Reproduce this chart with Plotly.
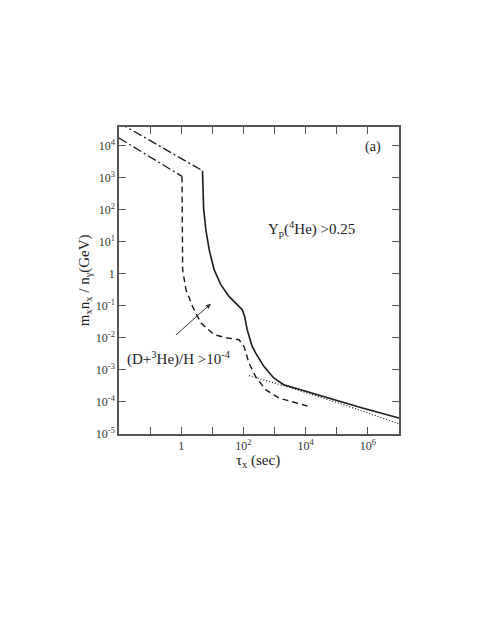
import plotly.graph_objects as go

# ---- data ----
tau_dd_upper = [0.01, 4.83]
y_dd_upper = [5.1e4, 1625]

tau_dd_lower = [0.01, 1.06]
y_dd_lower = [1.7e4, 1.08e3]

tau_solid = [4.83, 4.98, 5.27, 6.2, 7.9, 11.4, 18.7, 34.4, 63.4, 91.6, 109, 132, 191, 245,
             452, 942, 1970, 7570, 5.4e4, 6.25e5, 1e7]
y_solid = [1625, 335, 99, 23.5, 5.6, 1.33, 0.453, 0.196, 0.108, 0.0753, 0.0466, 0.0179,
           0.0054, 0.00337, 0.00129, 5.58e-4, 3.45e-4, 2.33e-4, 1.33e-4, 6.62e-5, 3.16e-5]

tau_dashed = [1.06, 1.11, 1.42, 2.31, 4.3, 11.4, 30.3, 71.8, 104, 150, 245, 512, 1360,
              4660, 1.24e4]
y_dashed = [1.08e3, 1.33, 0.316, 0.0955, 0.029, 0.0125, 0.00986, 0.00873, 0.0054, 0.00164,
            6.26e-4, 2.41e-4, 1.33e-4, 9.3e-5, 7.27e-5]

tau_dotted = [150, 1970, 5.4e4, 6.25e5, 1e7]
y_dotted = [6.59e-4, 3.21e-4, 1.17e-4, 5.33e-5, 2.06e-5]

x_tick_exp = list(range(-2, 8))
x_tick_text = ["", "", "1", "", "10<sup>2</sup>", "", "10<sup>4</sup>", "", "10<sup>6</sup>", ""]
y_tick_exp = list(range(-5, 5))
y_tick_text = ["10<sup>-5</sup>", "10<sup>-4</sup>", "10<sup>-3</sup>", "10<sup>-2</sup>",
               "10<sup>-1</sup>", "1", "10<sup>1</sup>", "10<sup>2</sup>", "10<sup>3</sup>",
               "10<sup>4</sup>"]

FONT = "Liberation Serif, Times New Roman, serif"
LC = "#1a1a1a"

fig = go.Figure()
fig.add_trace(go.Scatter(x=tau_dd_upper, y=y_dd_upper, mode="lines",
                         line=dict(color=LC, width=1.3, dash="9px,3px,2px,3px")))
fig.add_trace(go.Scatter(x=tau_dd_lower, y=y_dd_lower, mode="lines",
                         line=dict(color=LC, width=1.3, dash="9px,3px,2px,3px")))
fig.add_trace(go.Scatter(x=tau_solid, y=y_solid, mode="lines",
                         line=dict(color=LC, width=1.6)))
fig.add_trace(go.Scatter(x=tau_dashed, y=y_dashed, mode="lines",
                         line=dict(color=LC, width=1.4, dash="6px,4px")))
fig.add_trace(go.Scatter(x=tau_dotted, y=y_dotted, mode="lines",
                         line=dict(color=LC, width=1.2, dash="1px,2px")))

axis_common = dict(
    showgrid=False, zeroline=False, showline=True, linecolor="#555555", linewidth=1.5,
    mirror="allticks", ticks="inside", ticklen=7, tickwidth=1, tickcolor="#555555",
    tickfont=dict(family=FONT, size=12, color="#333333"),
)

# page has an 8px body margin, so the figure is sized/offset to compensate
fig.update_layout(
    width=483, height=627,
    margin=dict(l=111, r=92, t=119, b=201),
    paper_bgcolor="white", plot_bgcolor="white",
    showlegend=False,
    font=dict(family=FONT, color="#222222"),
    xaxis=dict(type="log", range=[-2, 7],
               tickmode="array", tickvals=[10 ** e for e in x_tick_exp], ticktext=x_tick_text,
               **axis_common),
    yaxis=dict(type="log", range=[-5, 4.574],
               tickmode="array", tickvals=[10 ** e for e in y_tick_exp], ticktext=y_tick_text,
               **axis_common),
)

PW, PH = 280.0, 307.0
L, B = 119.3, 434.3


def px(xp):
    return (xp - L) / PW


def py(yp):
    return (B - yp) / PH


fig.add_annotation(text="m<sub>x</sub>n<sub>x</sub> / n<sub>γ</sub>(GeV)", xref="paper", yref="paper",
                   x=px(85), y=0.5, textangle=-90, showarrow=False,
                   font=dict(family=FONT, size=15, color="#222222"), xanchor="center", yanchor="middle")
fig.add_annotation(text="τ<sub>x</sub> (sec)", xref="paper", yref="paper",
                   x=px(258), y=py(461), showarrow=False,
                   font=dict(family=FONT, size=15, color="#222222"), xanchor="center", yanchor="middle")
fig.add_annotation(text="(a)", xref="paper", yref="paper",
                   x=px(373), y=py(147), showarrow=False,
                   font=dict(family=FONT, size=14, color="#222222"), xanchor="center", yanchor="middle")
fig.add_annotation(text="Y<sub>p</sub>(<sup>4</sup>He) >0.25", xref="paper", yref="paper",
                   x=px(312), y=py(229), showarrow=False,
                   font=dict(family=FONT, size=15, color="#222222"), xanchor="center", yanchor="middle")
fig.add_annotation(text="(D+<sup>3</sup>He)/H >10<sup>-4</sup>", xref="paper", yref="paper",
                   x=px(179), y=py(359), showarrow=False,
                   font=dict(family=FONT, size=15, color="#222222"), xanchor="center", yanchor="middle")
# arrow
fig.add_annotation(x=0.952, y=-0.936, xref="x", yref="y", ax=-0.220, ay=-1.956,
                   axref="x", ayref="y", text="", showarrow=True, arrowhead=2,
                   arrowsize=1, arrowwidth=1, arrowcolor="#333333")

fig.write_html("out.html")
